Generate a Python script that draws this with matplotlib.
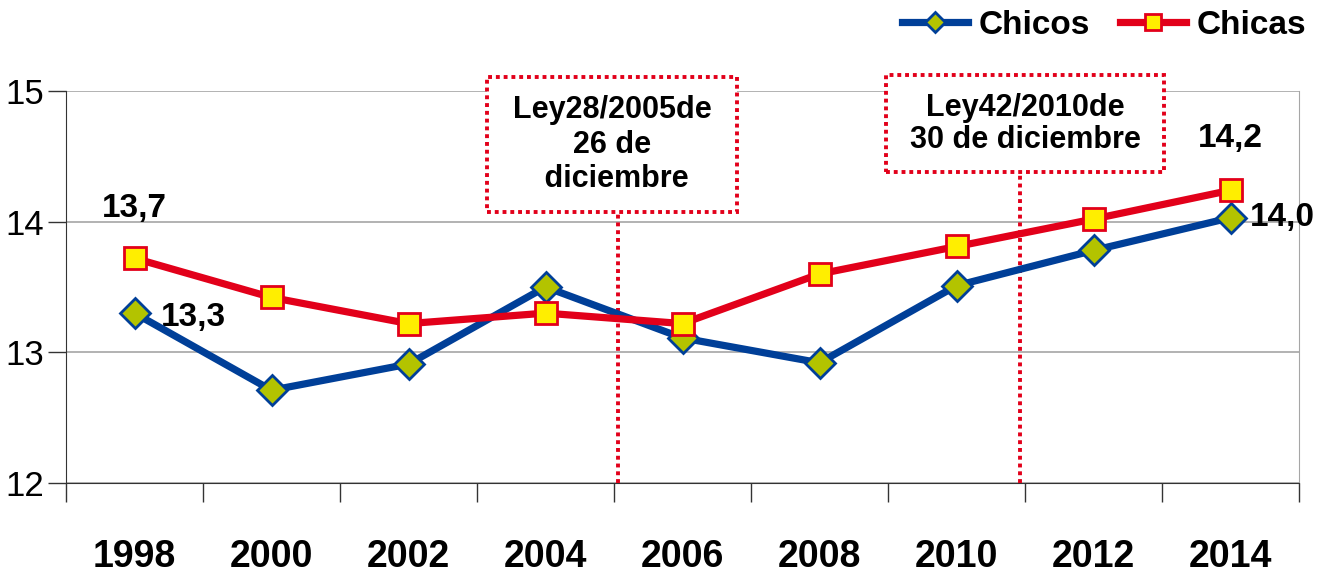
import matplotlib
matplotlib.use("Agg")
import matplotlib.pyplot as plt
from matplotlib.patches import Rectangle

years = ["1998", "2000", "2002", "2004", "2006", "2008", "2010", "2012", "2014"]
chicos = [13.30, 12.71, 12.91, 13.50, 13.11, 12.92, 13.51, 13.78, 14.03]
chicas = [13.72, 13.42, 13.22, 13.30, 13.22, 13.60, 13.81, 14.02, 14.24]
yticks = [12, 13, 14, 15]

plt.rcParams['font.family'] = ['Liberation Sans', 'DejaVu Sans']

BLUE = "#003f98"
RED = "#e2001a"
GREEN = "#b3c300"
YELLOW = "#ffee00"

fig = plt.figure(figsize=(13.36, 5.75), dpi=100)
ax = fig.add_axes([66/1336, 1-483/575, (1299-66)/1336, (483-91)/575])
x = list(range(len(years)))

ax.plot(x, chicos, color=BLUE, lw=5.2, marker='D', markersize=15,
        markerfacecolor=GREEN, markeredgecolor=BLUE, markeredgewidth=2, label="Chicos", zorder=4)
ax.plot(x, chicas, color=RED, lw=5.2, marker='s', markersize=16,
        markerfacecolor=YELLOW, markeredgecolor=RED, markeredgewidth=2, label="Chicas", zorder=5)

ax.set_xlim(-0.5, len(years) - 0.5)
ax.set_ylim(12, 15)
ax.set_yticks(yticks)
ax.set_yticklabels([str(v) for v in yticks], fontsize=25)
ax.set_xticks(x)
ax.set_xticklabels(years, fontsize=27, fontweight='bold')
ax.set_xticks([i - 0.5 for i in range(len(years) + 1)], minor=True)
ax.tick_params(axis='x', which='major', length=0, pad=40)
ax.tick_params(axis='x', which='minor', length=14, width=1, color='#333333')
ax.tick_params(axis='y', length=13, width=1, color='#333333', pad=3)
ax.yaxis.grid(True, color='#a6a6a6', lw=1.2)
ax.set_axisbelow(True)
ax.spines['top'].set_visible(False)
ax.spines['right'].set_color('#a6a6a6')
ax.spines['left'].set_color('#333333')
ax.spines['bottom'].set_color('#333333')

# value labels
lab = dict(fontsize=24, fontweight='bold', color='black')
ax.annotate("13,7", (0, chicas[0]), xytext=(0, 25), textcoords='offset points', ha='center', va='bottom', **lab)
ax.annotate("13,3", (0, chicos[0]), xytext=(19, -3), textcoords='offset points', ha='left', va='center', **lab)
ax.annotate("14,2", (8, chicas[8]), xytext=(0, 26), textcoords='offset points', ha='center', va='bottom', **lab)
ax.annotate("14,0", (8, chicos[8]), xytext=(14, 0), textcoords='offset points', ha='left', va='center', **lab)

# law boxes
dot = dict(edgecolor=RED, facecolor='white', lw=2.8, linestyle=(0, (1, 1)), clip_on=False, zorder=6)
ax.add_patch(Rectangle((2.57, 14.074), 4.40 - 2.57, 15.107 - 14.074, **dot))
ax.add_patch(Rectangle((5.485, 14.38), 7.515 - 5.485, 15.122 - 14.38, **dot))
ax.plot([3.53, 3.53], [12, 14.074], color=RED, lw=2.8, linestyle=(0, (1, 1)), zorder=3)
ax.plot([6.46, 6.46], [12, 14.38], color=RED, lw=2.8, linestyle=(0, (1, 1)), zorder=3)
ax.text(3.485, 14.59, "Ley28/2005de\n26 de\n diciembre", ha='center', va='center', fontsize=22,
        fontweight='bold', linespacing=1.2, zorder=7)
ax.text(6.5, 14.75, "Ley42/2010de\n30 de diciembre", ha='center', va='center', fontsize=22,
        fontweight='bold', linespacing=1.1, zorder=7)

leg = fig.legend(loc='upper right', bbox_to_anchor=(1.0, 1.035), ncol=2, frameon=False,
                 prop=dict(size=24, weight='bold'), handlelength=2.0, columnspacing=0.9,
                 handletextpad=0.3, markerscale=0.7)

fig.savefig("out.png", dpi=100)
